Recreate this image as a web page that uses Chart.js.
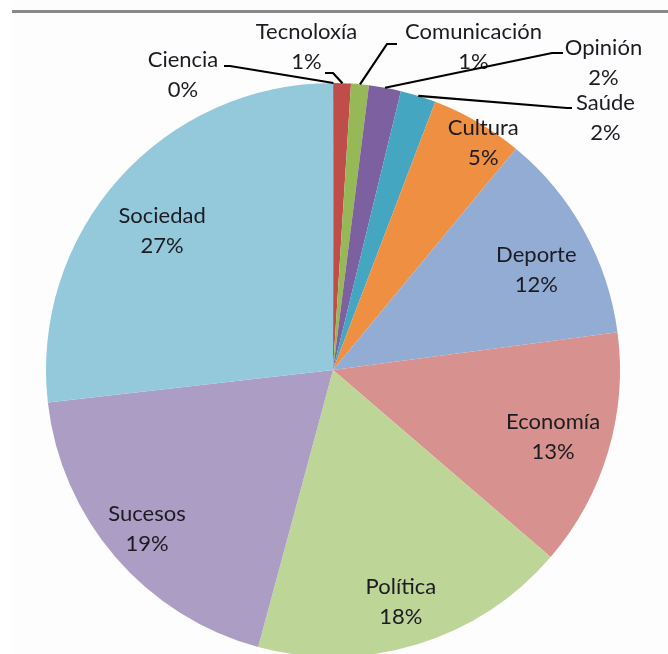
<!DOCTYPE html>
<html lang="gl">
<head>
<meta charset="utf-8">
<title>Temas</title>
<script src="https://cdn.jsdelivr.net/npm/chart.js@4/dist/chart.umd.min.js"></script>
<style>
  html, body { margin: 0; padding: 0; background: #ffffff; overflow: hidden; }
  #wrap { position: relative; width: 668px; height: 654px; overflow: hidden; }
  #frame { position: absolute; left: 12px; top: 0; width: 656px; height: 654px; background: #fdfdfd; }
  #rule { position: absolute; left: 12px; top: 10px; width: 656px; height: 3px; background: #898989; }
  #pie { position: absolute; left: 0; top: 0; display: block; }
</style>
</head>
<body>
<div id="wrap">
  <div id="frame"></div>
  <div id="rule"></div>
  <canvas id="pie" width="668" height="720"></canvas>
</div>
<script>
// Share of news items per topic (percent), clockwise from twelve o'clock
const categories = ['Ciencia', 'Tecnoloxía', 'Comunicación', 'Opinión', 'Saúde', 'Cultura',
                    'Deporte', 'Economía', 'Política', 'Sucesos', 'Sociedad'];
const shares = [0.05, 0.95, 1.0, 1.8, 2.0, 5.2, 11.9, 13.4, 17.9, 19.0, 26.8];
const sliceColors = ['#4f81bd', '#bf4d4a', '#97b857', '#7d60a0', '#44a6c0', '#ef8f42',
                     '#93acd4', '#d7928f', '#bed598', '#ac9dc5', '#93c9db'];

// Labels placed inside their slice: radius fraction along the mid-angle plus a small nudge (px)
const insideLabels = {
  'Cultura':  { rf: 0.95, dx: 13, dy: 8 },
  'Deporte':  { rf: 0.79, dx: 5,  dy: 9 },
  'Economía': { rf: 0.80, dx: 0,  dy: 1 },
  'Política': { rf: 0.84, dx: -3, dy: 1 },
  'Sucesos':  { rf: 0.85, dx: -1, dy: -1 },
  'Sociedad': { rf: 0.77, dx: -6, dy: 8 }
};
// Labels outside the pie with a leader line: label centre relative to the pie centre,
// and the leader's elbow / end relative to the label centre
const calloutLabels = {
  'Ciencia':      { at: [-150, -295.5],  elbow: [47, -8.5],    end: [41, -8.5] },
  'Tecnoloxía':   { at: [-26.5, -323.5], elbow: [26.5, 26.5],  end: [18.5, 26.5] },
  'Comunicación': { at: [140.5, -323.5], elbow: [-86.5, -2.5], end: [-76.5, -2.5] },
  'Opinión':      { at: [270.5, -307.5], elbow: [-51.5, -9.5], end: [-40.5, -9.5] },
  'Saúde':        { at: [272.5, -252.5], elbow: [-38.5, -9.5], end: [-33.5, -9.5] }
};

const FONT = '22px Lato, "Open Sans", sans-serif';
const LINE_GAP = 30;

const sliceLabelPlugin = {
  id: 'sliceLabels',
  afterDatasetsDraw(chart) {
    const ctx = chart.ctx;
    const meta = chart.getDatasetMeta(0);
    const values = chart.data.datasets[0].data;
    const total = values.reduce((a, b) => a + b, 0);
    ctx.save();
    ctx.font = FONT;
    ctx.fillStyle = '#1b1b22';
    ctx.textAlign = 'center';
    ctx.textBaseline = 'alphabetic';
    meta.data.forEach((arc, i) => {
      const p = arc.getProps(['x', 'y', 'startAngle', 'endAngle', 'outerRadius'], true);
      const mid = (p.startAngle + p.endAngle) / 2;
      const name = chart.data.labels[i];
      const pct = Math.round(values[i] / total * 100) + '%';
      let cx, cy;
      if (calloutLabels[name]) {
        const c = calloutLabels[name];
        cx = p.x + c.at[0];
        cy = p.y + c.at[1];
        const sx = p.x + Math.cos(mid) * p.outerRadius;
        const sy = p.y + Math.sin(mid) * p.outerRadius;
        ctx.beginPath();
        ctx.moveTo(sx, sy);
        ctx.lineTo(cx + c.elbow[0], cy + c.elbow[1]);
        ctx.lineTo(cx + c.end[0], cy + c.end[1]);
        ctx.lineWidth = 2.2;
        ctx.strokeStyle = '#000000';
        ctx.stroke();
      } else {
        const s = insideLabels[name];
        const r = s.rf * p.outerRadius;
        cx = p.x + Math.cos(mid) * r + s.dx;
        cy = p.y + Math.sin(mid) * r + s.dy;
      }
      ctx.fillText(name, cx, cy - 7.5);
      ctx.fillText(pct, cx, cy - 7.5 + LINE_GAP);
    });
    ctx.restore();
  }
};

function draw() {
  new Chart(document.getElementById('pie'), {
    type: 'pie',
    data: {
      labels: categories,
      datasets: [{
        data: shares,
        backgroundColor: sliceColors,
        borderWidth: 0
      }]
    },
    options: {
      responsive: false,
      animation: false,
      devicePixelRatio: 1,
      layout: { padding: { top: 83, bottom: 63, left: 46, right: 48 } },
      plugins: {
        legend: { display: false },
        tooltip: { enabled: false }
      }
    },
    plugins: [sliceLabelPlugin]
  });
}

if (document.fonts && document.fonts.load) {
  document.fonts.load(FONT).then(draw, draw);
} else {
  draw();
}
</script>
</body>
</html>
